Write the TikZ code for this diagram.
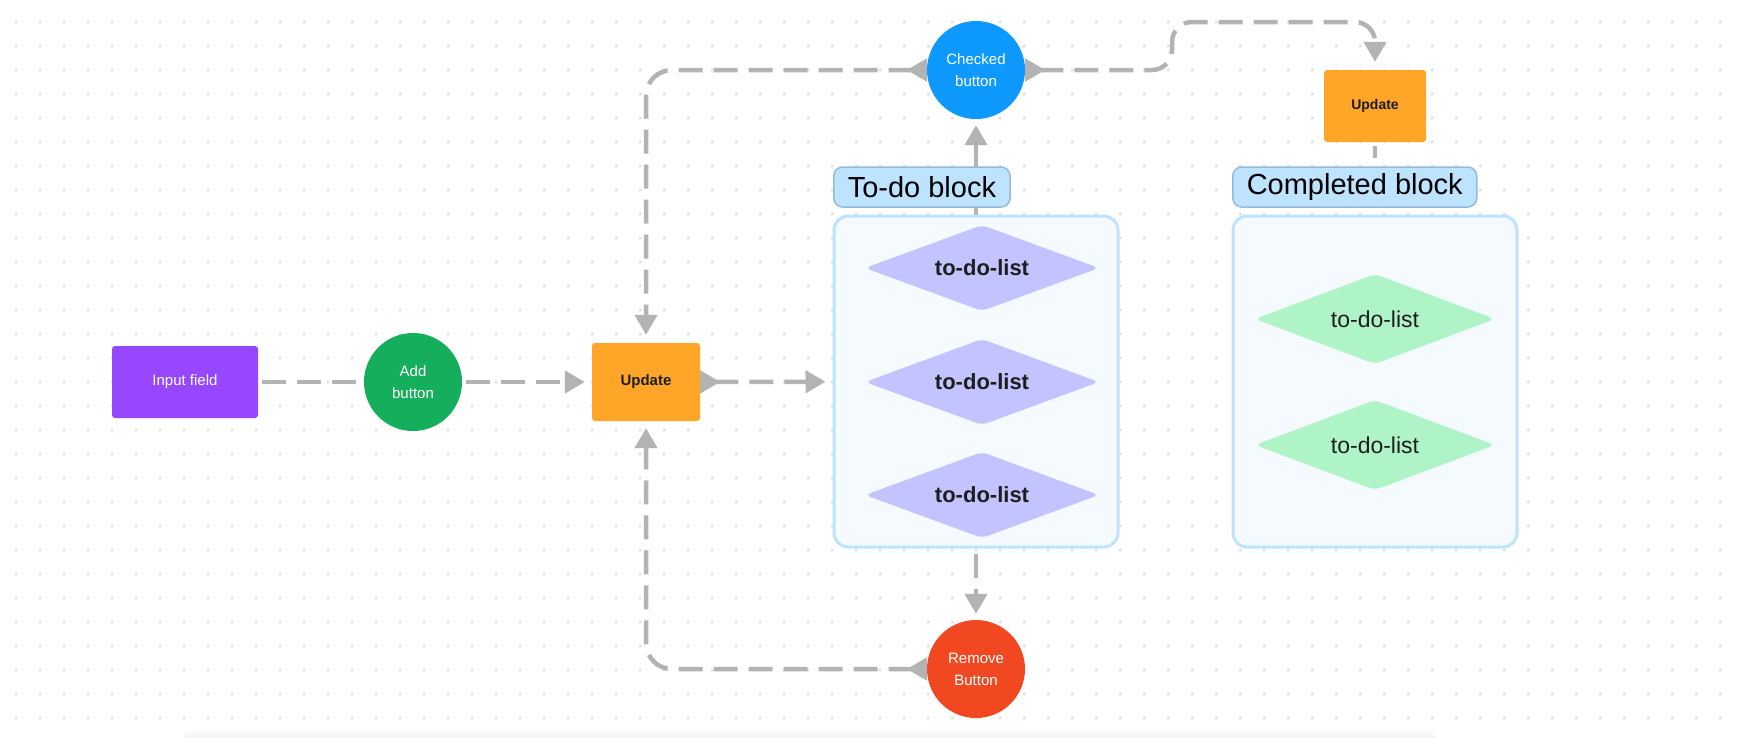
\documentclass[tikz,border=0pt]{standalone}
\usepackage{fontspec}
\setmainfont{Liberation Sans}
\newfontfamily\blockfont{Liberation Sans}
\usepackage{xcolor}
\usepackage{tikz}
\usetikzlibrary{shapes.geometric,arrows.meta}

\definecolor{edgegray}{HTML}{B3B3B3}
\definecolor{dotgray}{HTML}{D9D9D9}
\definecolor{inputpurple}{HTML}{9747FF}
\definecolor{addgreen}{HTML}{14AE5C}
\definecolor{updorange}{HTML}{FFA629}
\definecolor{checkblue}{HTML}{0D99FF}
\definecolor{removered}{HTML}{F24822}
\definecolor{labelblue}{HTML}{BDE3FF}
\definecolor{labelline}{HTML}{94BADB}
\definecolor{panelfill}{HTML}{F5FAFF}
\definecolor{todoviolet}{HTML}{C2C3FF}
\definecolor{donegreen}{HTML}{AFF4C6}
\definecolor{textdark}{HTML}{1E1E1E}

\pgfdeclarelayer{grid}
\pgfdeclarelayer{edges}
\pgfsetlayers{grid,edges,main}

\tikzset{
  smalltext/.style={font=\fontsize{15}{22}\selectfont},
  inputbox/.style={rectangle, rounded corners=3pt, fill=inputpurple, text=white,
    minimum width=146pt, minimum height=72pt, inner sep=0pt, smalltext},
  updbox/.style={rectangle, rounded corners=3pt, fill=updorange, text=textdark,
    minimum width=108pt, minimum height=78pt, inner sep=0pt,
    font=\bfseries\fontsize{15}{18}\selectfont},
  btn/.style={circle, minimum size=98pt, inner sep=0pt, text=white, align=center, smalltext},
  panel/.style={rectangle, rounded corners=14pt, draw=labelblue, fill=panelfill,
    line width=3pt, minimum width=284pt, minimum height=331pt},
  blocklabel/.style={rectangle, rounded corners=9pt, draw=labelline, fill=labelblue,
    line width=1.5pt, minimum height=40pt, inner xsep=14pt, anchor=west,
    font=\blockfont\fontsize{29}{32}\selectfont},
  todoitem/.style={diamond, aspect=2.7, rounded corners=6pt, fill=todoviolet, text=textdark,
    minimum width=234pt, minimum height=86pt, inner sep=0pt,
    font=\bfseries\fontsize{22}{24}\selectfont},
  doneitem/.style={diamond, aspect=2.6, rounded corners=6pt, fill=donegreen, text=textdark,
    minimum width=240pt, minimum height=90pt, inner sep=0pt,
    font=\fontsize{23}{24}\selectfont},
  flow/.style={draw=edgegray, line width=4.5pt, dash pattern=on 24pt off 11pt},
  tip/.style={-{Triangle[length=20pt,width=22pt]}},
  tailtip/.style={{Triangle[reversed,length=20pt,width=22pt]}-{Triangle[length=20pt,width=22pt]}}
}

\begin{document}
\begin{tikzpicture}[x=1pt,y=-1pt]
  % Canvas and dotted grid
  \useasboundingbox (0,0) rectangle (1737,737);
  \begin{pgfonlayer}{grid}
    \fill[white] (0,0) rectangle (1737,737);
    \foreach \gx in {16,40,...,1720}
      \foreach \gy in {22,46,...,718}
        \fill[dotgray] (\gx,\gy) circle (1.5pt);
    \shade[top color=white, bottom color=black!4] (185,727) rectangle (1435,737);
  \end{pgfonlayer}

  % Left chain
  \node[inputbox] (input) at (185,382) {Input field};
  \node[btn, fill=addgreen] (add) at (413,382) {Add\\button};
  \node[updbox] (upd) at (646,382) {Update};

  % Buttons
  \node[btn, fill=checkblue] (checked) at (976,70) {Checked\\button};
  \node[btn, fill=removered] (remove) at (976,669) {Remove\\Button};
  \node[updbox, minimum width=102pt, minimum height=72pt,
        font=\bfseries\fontsize{14}{16}\selectfont] (upd2) at (1375,106) {Update};

  % To-do block
  \node[panel] (todo) at (976,381.5) {};
  \node[blocklabel] (todolabel) at (833,187) {To-do block};
  \foreach \y [count=\i] in {268,382,495}
    \node[todoitem] (item\i) at (982,\y) {to-do-list};

  % Completed block
  \node[panel] (done) at (1375,381.5) {};
  \node[blocklabel] (donelabel) at (1232,187) {Completed block};
  \foreach \y [count=\i] in {319,445}
    \node[doneitem] (doneitem\i) at (1375,\y) {to-do-list};

  % Connectors
  \coordinate (jog) at (1172,22);
  \begin{pgfonlayer}{edges}
    \draw[flow, shorten <=4pt, shorten >=4pt] (input) -- (add);
    \draw[flow, tip, shorten <=4pt, shorten >=7pt] (add) -- (upd);
    \draw[flow, tailtip, shorten >=7pt] (upd) -- (todo);
    \draw[flow, tailtip, rounded corners=26pt, shorten >=8pt] (checked.west) -| (upd.north);
    \draw[flow, tailtip, rounded corners=26pt, shorten >=7pt] (remove.west) -| (upd.south);
    \draw[flow, solid, tip, shorten >=6pt] (todo.north) -- (checked.south);
    \draw[flow, tip, shorten <=5pt, shorten >=6pt] (todo.south) -- (remove.north);
    \draw[flow, tailtip, rounded corners=20pt, shorten >=8pt] (checked.east) -| (jog) -| (upd2.north);
    \draw[flow, dash pattern=on 12pt off 20pt, shorten <=4pt] (upd2.south) -- (upd2.south |- donelabel.north);
  \end{pgfonlayer}
\end{tikzpicture}
\end{document}
